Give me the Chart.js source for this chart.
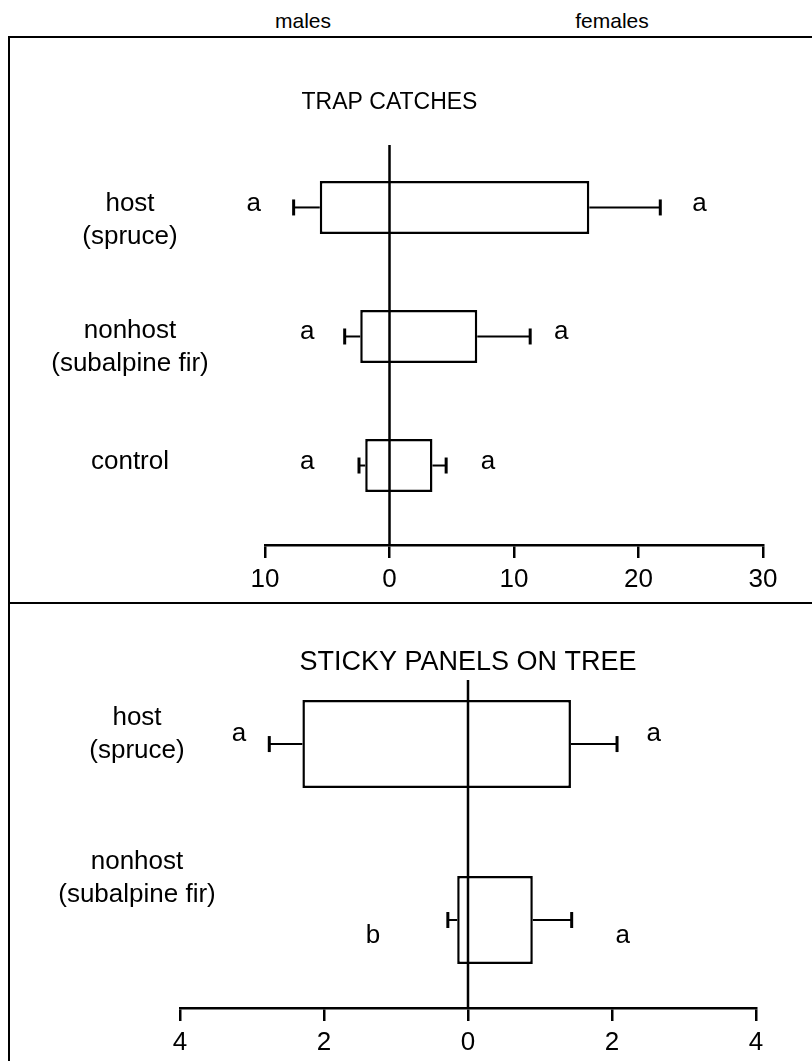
<!DOCTYPE html>
<html>
<head>
<meta charset="utf-8">
<script src="https://cdn.jsdelivr.net/npm/chart.js@4.4.1/dist/chart.umd.min.js"></script>
<style>
  html, body { margin: 0; padding: 0; background: #fff; }
  #page { position: relative; width: 812px; height: 1061px; overflow: hidden;
          font-family: "Liberation Sans", Arial, sans-serif; color: #000; }
  .head { position: absolute; top: 9px; font-size: 21px; line-height: 24px; transform: translateX(-50%); }
  .frame { position: absolute; left: 8px; top: 36px; width: 900px; height: 1100px;
           border-left: 2px solid #000; border-top: 2px solid #000; }
  .rule { position: absolute; left: 8px; top: 602px; width: 900px; height: 2px; background: #000; }
  .panel { position: absolute; left: 0; width: 812px; }
</style>
</head>
<body>
<div id="page">
  <div class="head" style="left:303px">males</div>
  <div class="head" style="left:612px">females</div>
  <div class="frame"></div>
  <div class="rule"></div>
  <div class="panel" style="top:38px;height:564px"><canvas id="trap"></canvas></div>
  <div class="panel" style="top:604px;height:457px"><canvas id="sticky"></canvas></div>
</div>
<script>
// Trap catches: mean males (drawn to the left) and females (to the right) with SE
const trapCategories = [['host', '(spruce)'], ['nonhost', '(subalpine fir)'], ['control']];
const trapMales = [5.6, 2.35, 1.95];
const trapMalesSE = [2.1, 1.25, 0.5];
const trapFemales = [16.05, 7.05, 3.45];
const trapFemalesSE = [5.7, 4.25, 1.1];
const trapMaleLetters = ['a', 'a', 'a'];
const trapFemaleLetters = ['a', 'a', 'a'];
const trapTicks = [-10, 0, 10, 20, 30];

// Sticky panels on tree
const stickyCategories = [['host', '(spruce)'], ['nonhost', '(subalpine fir)']];
const stickyMales = [2.3, 0.15];
const stickyMalesSE = [0.46, 0.13];
const stickyFemales = [1.43, 0.9];
const stickyFemalesSE = [0.64, 0.54];
const stickyMaleLetters = ['a', 'b'];
const stickyFemaleLetters = ['a', 'a'];
const stickyTicks = [-4, -2, 0, 2, 4];

const FONT = '"Liberation Sans", Arial, sans-serif';

// Whiskers, zero line, significance letters, panel title and row labels
const panelMarks = {
  id: 'panelMarks',
  afterDatasetsDraw(chart, args, o) {
    const { ctx, chartArea, scales: { x, y } } = chart;
    ctx.save();
    ctx.strokeStyle = '#000';
    ctx.fillStyle = '#000';
    ctx.lineCap = 'butt';
    ctx.textAlign = 'center';
    ctx.textBaseline = 'middle';
    const cap = 8;
    o.males.forEach((m, i) => {
      const yc = y.getPixelForValue(i);
      const f = o.females[i];
      const segs = [
        [x.getPixelForValue(-m), x.getPixelForValue(-(m + o.malesSE[i]))],
        [x.getPixelForValue(f), x.getPixelForValue(f + o.femalesSE[i])]
      ];
      segs.forEach(([a, b]) => {
        ctx.lineWidth = 2;
        ctx.beginPath(); ctx.moveTo(a, yc); ctx.lineTo(b, yc); ctx.stroke();
        ctx.lineWidth = 3;
        ctx.beginPath(); ctx.moveTo(b, yc - cap); ctx.lineTo(b, yc + cap); ctx.stroke();
      });
      ctx.font = `${o.fontSize}px ${FONT}`;
      ctx.fillText(o.maleLetters[i], x.getPixelForValue(o.maleLetterAt[i]), yc + o.letterShift[i]);
      ctx.fillText(o.femaleLetters[i], x.getPixelForValue(o.femaleLetterAt[i]), yc + o.letterShift[i]);

      o.categories[i].forEach((t, k) => {
        ctx.fillText(t, o.labelX, yc + o.labelShift[i] + k * 33);
      });
    });
    const zx = x.getPixelForValue(0);
    ctx.lineWidth = 2.5;
    ctx.beginPath(); ctx.moveTo(zx, chartArea.top); ctx.lineTo(zx, chartArea.bottom); ctx.stroke();
    ctx.font = `${o.titleSize}px ${FONT}`;
    ctx.fillText(o.title, zx, o.titleY);
    ctx.restore();
  }
};

function makePanel(id, cfg) {
  const rows = cfg.categories.map((c, i) => i);
  new Chart(document.getElementById(id), {
    type: 'bar',
    data: {
      labels: cfg.categories.map(c => c.join(' ')),
      datasets: [{
        data: cfg.males.map((m, i) => ({ y: i, x: [-m, cfg.females[i]] })),
        backgroundColor: '#fff',
        borderColor: '#000',
        borderWidth: 2.5,
        borderSkipped: false,
        categoryPercentage: cfg.barShare,
        barPercentage: 1
      }]
    },
    options: {
      indexAxis: 'y',
      responsive: true,
      maintainAspectRatio: false,
      animation: false,
      events: [],
      layout: { padding: cfg.padding },
      plugins: {
        legend: { display: false },
        tooltip: { enabled: false },
        title: { display: false },
        panelMarks: {
          title: cfg.title, titleY: cfg.titleY, titleSize: cfg.titleSize,
          categories: cfg.categories,
          males: cfg.males, malesSE: cfg.malesSE,
          females: cfg.females, femalesSE: cfg.femalesSE,
          maleLetters: cfg.maleLetters, femaleLetters: cfg.femaleLetters,
          maleLetterAt: cfg.maleLetterAt, femaleLetterAt: cfg.femaleLetterAt,
          letterShift: cfg.letterShift,
          labelX: cfg.labelX, labelShift: cfg.labelShift, fontSize: 26
        }
      },
      scales: {
        y: {
          type: 'linear', display: false, reverse: true, offset: false,
          min: cfg.rowRange[0], max: cfg.rowRange[1],
          afterBuildTicks: s => { s.ticks = rows.map(v => ({ value: v })); }
        },
        x: {
          type: 'linear',
          min: cfg.ticks[0],
          max: cfg.ticks[cfg.ticks.length - 1],
          afterBuildTicks: s => { s.ticks = cfg.ticks.map(v => ({ value: v })); },
          afterFit: s => { s.height = cfg.axisHeight; },
          border: { display: true, color: '#000', width: 2.5 },
          grid: { drawOnChartArea: false, drawTicks: true, tickLength: 13, color: '#000', lineWidth: 2.5 },
          ticks: {
            color: '#000',
            padding: 6,
            maxRotation: 0,
            font: { family: FONT, size: 26 },
            callback: v => String(Math.abs(v))
          }
        }
      }
    },
    plugins: [panelMarks]
  });
}

makePanel('trap', {
  title: 'TRAP CATCHES', titleY: 65, titleSize: 23,
  categories: trapCategories,
  males: trapMales, malesSE: trapMalesSE,
  females: trapFemales, femalesSE: trapFemalesSE,
  maleLetters: trapMaleLetters, femaleLetters: trapFemaleLetters,
  maleLetterAt: [-10.9, -6.6, -6.6], femaleLetterAt: [24.9, 13.8, 7.9],
  letterShift: [-4, -5, -4],
  ticks: trapTicks,
  rowRange: [-0.484, 2.616], barShare: 0.41,
  labelX: 130, labelShift: [-4, -6, -4],
  padding: { left: 265, right: 49, top: 107, bottom: 0 },
  axisHeight: 57
});

makePanel('sticky', {
  title: 'STICKY PANELS ON TREE', titleY: 59, titleSize: 27,
  categories: stickyCategories,
  males: stickyMales, malesSE: stickyMalesSE,
  females: stickyFemales, femalesSE: stickyFemalesSE,
  maleLetters: stickyMaleLetters, femaleLetters: stickyFemaleLetters,
  maleLetterAt: [-3.18, -1.32], femaleLetterAt: [2.58, 2.15],
  letterShift: [-10, 16],
  ticks: stickyTicks,
  rowRange: [-0.364, 1.5], barShare: 0.5,
  labelX: 137, labelShift: [-26, -58],
  padding: { left: 180, right: 56, top: 76, bottom: 0 },
  axisHeight: 53
});
</script>
</body>
</html>
